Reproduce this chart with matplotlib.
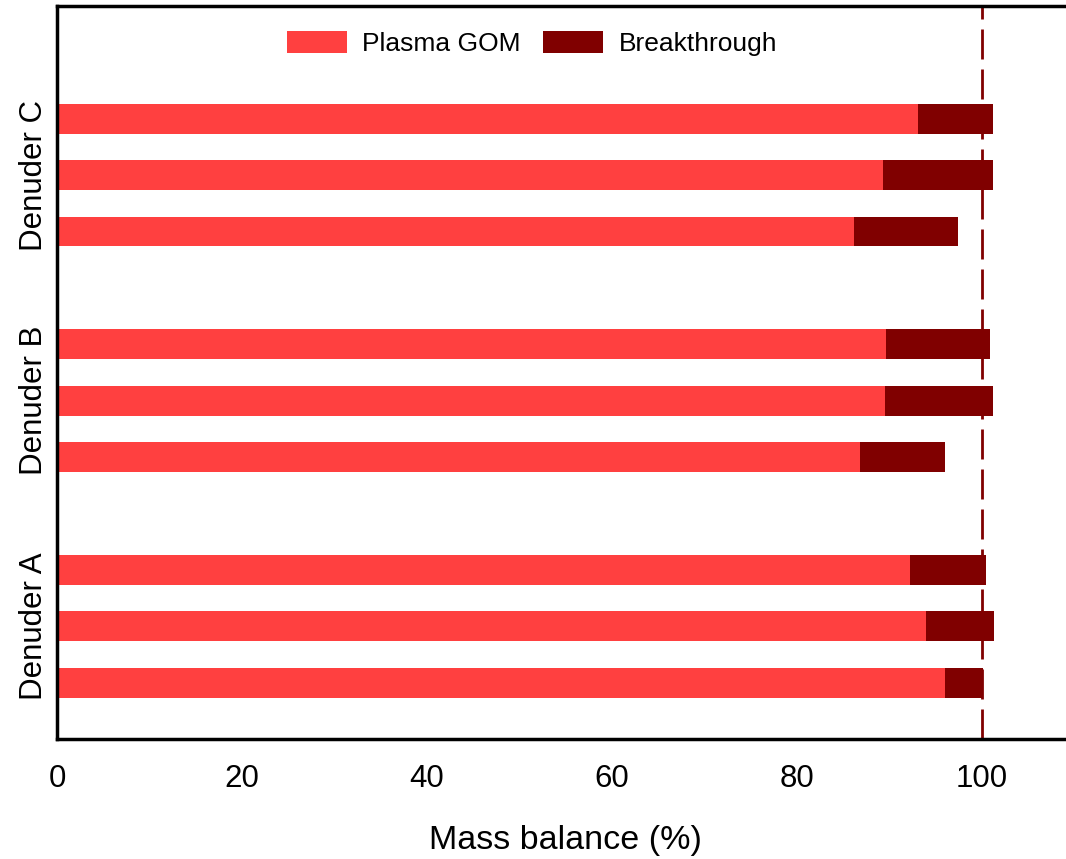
import matplotlib
matplotlib.use('Agg')
import matplotlib.pyplot as plt

plt.rcParams['font.family'] = ['Liberation Sans', 'DejaVu Sans']

# values, bottom to top within each denuder
groups = ['Denuder A', 'Denuder B', 'Denuder C']
plasma_gom = [96.1, 94.0, 92.3, 86.8, 89.6, 89.7, 86.2, 89.3, 93.1]
total = [100.2, 101.4, 100.5, 96.0, 101.2, 100.9, 97.5, 101.2, 101.2]
breakthrough = [t - g for t, g in zip(total, plasma_gom)]
positions = [1, 2, 3, 5, 6, 7, 9, 10, 11]
group_centers = [2, 6, 10]
xticks = [0, 20, 40, 60, 80, 100]

fig = plt.figure(figsize=(10.66, 8.59), dpi=100)
ax = fig.add_axes([57 / 1066, 1 - 739 / 859, (1074 - 57) / 1066, (739 - 6) / 859])

ax.barh(positions, plasma_gom, height=0.53, color='#FF4040', label='Plasma GOM')
ax.barh(positions, breakthrough, left=plasma_gom, height=0.53, color='#800000',
        label='Breakthrough')
ax.axvline(100, color='#800000', linestyle=(0, (10.8, 3.6)), linewidth=2,
           dash_capstyle='butt')

ax.set_xlim(0, 110)
ax.set_ylim(0, 13)
ax.set_xticks(xticks)
ax.set_xticklabels([str(x) for x in xticks], fontsize=22.5)
ax.tick_params(axis='x', length=0, pad=18)
ax.set_yticks(group_centers)
ax.set_yticklabels(groups, rotation=90, va='center', fontsize=22.5)
ax.tick_params(axis='y', length=0, pad=6)
ax.set_xlabel('Mass balance (%)', fontsize=24.5, labelpad=22)

for s in ax.spines.values():
    s.set_linewidth(2.5)

ax.legend(loc='upper center', bbox_to_anchor=(0.467, 0.998), ncol=2, frameon=False,
          fontsize=19, handlelength=2.27, handleheight=0.9, columnspacing=0.83,
          handletextpad=0.6)

fig.savefig('out.png', dpi=100)
